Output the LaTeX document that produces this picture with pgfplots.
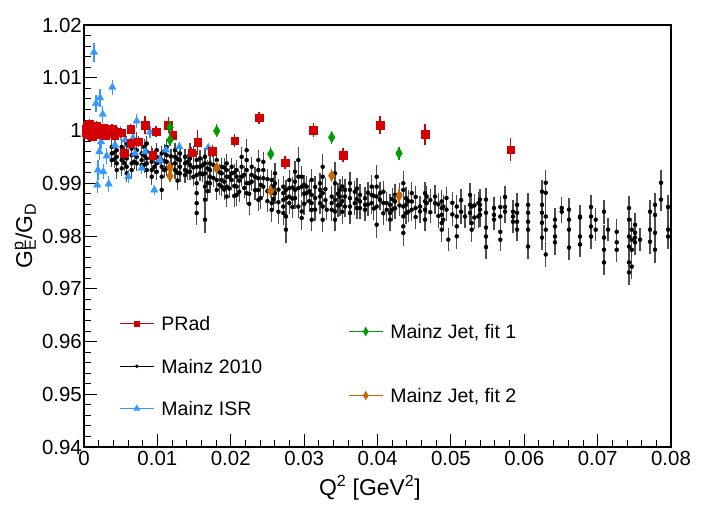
\documentclass[border=0pt]{standalone}
\usepackage{fontspec}
\setmainfont{Liberation Sans}
\usepackage{pgfplots}
\usepackage{pgfplotstable}
\pgfplotsset{compat=1.18}
\definecolor{cred}{RGB}{210,0,0}
\definecolor{cblue}{RGB}{51,153,255}
\definecolor{cgreen}{RGB}{0,155,0}
\definecolor{corange}{RGB}{204,102,0}

\pgfplotstableread{
x y e
0.00022 1.0003 0.0006
0.00030 0.9996 0.0006
0.00038 1.0010 0.0005
0.00046 0.9992 0.0005
0.00055 1.0005 0.0005
0.00065 0.9998 0.0005
0.00076 1.0012 0.0005
0.00088 0.9994 0.0004
0.00101 1.0002 0.0004
0.00115 0.9989 0.0004
0.00131 1.0006 0.0004
0.00148 0.9999 0.0004
0.00166 1.0009 0.0004
0.00186 0.9993 0.0004
0.00208 1.0001 0.0004
0.00232 0.9997 0.0004
0.00258 1.0004 0.0004
0.00286 0.9991 0.0004
0.00316 1.0000 0.0004
0.00348 0.9995 0.0004
0.00383 1.0003 0.0005
0.00420 0.9990 0.0005
0.00460 0.9998 0.0005
0.00503 0.9996 0.0005
0.00549 0.99568 0.0006
0.00637 1.00028 0.0005
0.00637 0.99757 0.0005
0.00740 0.99788 0.0006
0.00831 1.00104 0.0012
0.00936 0.99536 0.0008
0.00981 0.99977 0.0006
0.01149 1.00104 0.0010
0.01209 0.99915 0.0007
0.01468 0.99576 0.0007
0.01550 0.99773 0.0019
0.01749 0.99606 0.0007
0.02054 0.99807 0.0008
0.02385 1.00243 0.0007
0.02740 0.99390 0.0008
0.03125 1.00010 0.0009
0.03530 0.99536 0.0009
0.04034 1.00104 0.0012
0.04648 0.99928 0.0016
0.05816 0.99636 0.0017
}\tblR

\pgfplotstableread{
x y e
0.00136 1.01482 0.0014
0.00164 1.00516 0.0012
0.00181 0.98967 0.0011
0.00190 0.99251 0.0014
0.00209 0.99598 0.0012
0.00218 1.00622 0.0013
0.00232 0.99788 0.0010
0.00255 1.00307 0.0012
0.00263 0.99219 0.0010
0.00310 0.99517 0.0011
0.00337 0.98986 0.0011
0.00386 1.00819 0.0010
0.00423 0.99725 0.0009
0.00500 0.99947 0.0009
0.00560 0.99820 0.0008
0.00604 0.99124 0.0008
0.00668 0.99858 0.0008
0.00695 0.99568 0.0007
0.00718 1.00180 0.0008
0.00786 0.99283 0.0006
0.00831 0.99598 0.0007
0.00900 0.99970 0.0007
0.00958 0.98872 0.0005
0.01036 0.99441 0.0006
0.01118 0.99630 0.0006
0.01299 0.99693 0.0005
0.01694 0.99674 0.0005
}\tblI

\pgfplotstableread{
x y e
0.01172 1.00061 0.0007
0.01172 0.99820 0.0007
0.01809 0.99991 0.0008
0.02545 0.99555 0.0008
0.03376 0.99871 0.0008
0.04293 0.99568 0.0008
}\tblJa

\pgfplotstableread{
x y e
0.01172 0.99295 0.0007
0.01172 0.99137 0.0007
0.01809 0.99294 0.0008
0.02545 0.98853 0.0008
0.03376 0.99143 0.0008
0.04293 0.98758 0.0008
}\tblJb

\pgfplotstableread{
x y e
0.00378 0.99689 0.0008
0.00378 0.99565 0.0010
0.00378 0.99439 0.0009
0.00412 0.9958 0.0008
0.00412 0.9945 0.0011
0.00446 0.99627 0.0009
0.00446 0.99501 0.0008
0.00446 0.99377 0.0010
0.00446 0.99250 0.0012
0.00514 0.99689 0.0010
0.00514 0.99565 0.0008
0.00514 0.99439 0.0009
0.00514 0.99282 0.0011
0.00548 0.9962 0.0009
0.00548 0.9950 0.0008
0.00548 0.9938 0.0010
0.00582 0.99753 0.0010
0.00582 0.99595 0.0009
0.00582 0.99471 0.0008
0.00582 0.99313 0.0009
0.00582 0.99188 0.0012
0.00650 0.99659 0.0009
0.00650 0.99533 0.0008
0.00650 0.99377 0.0010
0.00650 0.99250 0.0011
0.00684 0.9955 0.0009
0.00684 0.9941 0.0010
0.00718 0.99815 0.0011
0.00718 0.99627 0.0009
0.00718 0.99501 0.0008
0.00718 0.99377 0.0010
0.00786 0.99565 0.0009
0.00786 0.99439 0.0010
0.00786 0.99345 0.0009
0.00820 0.9969 0.0010
0.00820 0.9952 0.0009
0.00820 0.9935 0.0011
0.00855 0.99753 0.0010
0.00855 0.99595 0.0009
0.00855 0.99471 0.0008
0.00855 0.99377 0.0009
0.00855 0.99250 0.0011
0.00923 0.99565 0.0009
0.00923 0.99407 0.0010
0.00923 0.99250 0.0009
0.00923 0.99124 0.0012
0.00957 0.9948 0.0010
0.00957 0.9931 0.0009
0.00991 0.99627 0.0010
0.00991 0.99501 0.0009
0.00991 0.99377 0.0010
0.00991 0.99218 0.0011
0.01059 0.99565 0.0010
0.01059 0.99439 0.0009
0.01059 0.99313 0.0010
0.01059 0.99124 0.0012
0.01059 0.98874 0.0015
0.01093 0.9960 0.0010
0.01093 0.9942 0.0009
0.01093 0.9925 0.0011
0.01127 0.99689 0.0010
0.01127 0.99533 0.0009
0.01127 0.99407 0.0010
0.01127 0.99282 0.0011
0.01184 0.9951 0.0010
0.01184 0.9936 0.0011
0.01240 0.99627 0.0010
0.01240 0.99501 0.0011
0.01240 0.99377 0.0009
0.01240 0.99250 0.0012
0.01274 0.9946 0.0010
0.01274 0.9920 0.0011
0.01274 0.9905 0.0013
0.01308 0.99565 0.0010
0.01308 0.99439 0.0011
0.01308 0.99313 0.0010
0.01308 0.99188 0.0012
0.01377 0.99501 0.0011
0.01377 0.99377 0.0010
0.01377 0.99250 0.0012
0.01377 0.99156 0.0011
0.01411 0.9940 0.0011
0.01411 0.9922 0.0012
0.01445 0.99595 0.0012
0.01445 0.99471 0.0010
0.01445 0.99345 0.0011
0.01445 0.99218 0.0012
0.01490 0.9955 0.0011
0.01490 0.9930 0.0012
0.01490 0.9912 0.0013
0.01536 0.99439 0.0012
0.01536 0.99313 0.0011
0.01536 0.99156 0.0012
0.01536 0.99000 0.0013
0.01536 0.98812 0.0014
0.01536 0.98623 0.0016
0.01536 0.98435 0.0018
0.01581 0.99471 0.0011
0.01581 0.99313 0.0012
0.01581 0.99188 0.0011
0.01615 0.9934 0.0012
0.01615 0.9917 0.0011
0.01649 0.99501 0.0012
0.01649 0.99377 0.0011
0.01649 0.99188 0.0013
0.01649 0.98936 0.0015
0.01649 0.98686 0.0016
0.01649 0.98309 0.0020
0.01683 0.9928 0.0012
0.01683 0.9901 0.0013
0.01683 0.9885 0.0014
0.01717 0.99377 0.0012
0.01717 0.99250 0.0011
0.01717 0.99124 0.0012
0.01717 0.99000 0.0014
0.01763 0.9935 0.0012
0.01763 0.9910 0.0013
0.01809 0.99439 0.0013
0.01809 0.99250 0.0012
0.01809 0.99062 0.0013
0.01809 0.98874 0.0015
0.01843 0.9921 0.0012
0.01843 0.9897 0.0014
0.01877 0.99313 0.0012
0.01877 0.99188 0.0013
0.01877 0.99062 0.0012
0.01877 0.98936 0.0014
0.01911 0.9930 0.0013
0.01911 0.9903 0.0012
0.01911 0.9888 0.0015
0.01945 0.99377 0.0013
0.01945 0.99250 0.0012
0.01945 0.99124 0.0013
0.01945 0.98936 0.0014
0.01945 0.98748 0.0016
0.01979 0.9912 0.0013
0.01979 0.9890 0.0014
0.02013 0.99313 0.0013
0.02013 0.99188 0.0012
0.02013 0.99062 0.0014
0.02047 0.9920 0.0013
0.02047 0.9895 0.0014
0.02047 0.9876 0.0016
0.02081 0.99250 0.0014
0.02081 0.99124 0.0013
0.02081 0.98936 0.0014
0.02081 0.98780 0.0016
0.02115 0.9905 0.0013
0.02115 0.9884 0.0015
0.02149 0.99501 0.0015
0.02149 0.99313 0.0013
0.02149 0.99124 0.0014
0.02183 0.9916 0.0013
0.02183 0.9891 0.0015
0.02217 0.99627 0.0016
0.02217 0.99439 0.0014
0.02217 0.99250 0.0013
0.02217 0.99000 0.0015
0.02217 0.98812 0.0016
0.02251 0.9900 0.0014
0.02251 0.9880 0.0015
0.02251 0.9861 0.0017
0.02286 0.99313 0.0014
0.02286 0.99156 0.0013
0.02286 0.99030 0.0014
0.02331 0.9912 0.0014
0.02331 0.9887 0.0015
0.02376 0.99439 0.0015
0.02376 0.99250 0.0014
0.02376 0.99094 0.0013
0.02376 0.98874 0.0015
0.02376 0.98686 0.0017
0.02410 0.9897 0.0014
0.02410 0.9872 0.0016
0.02444 0.99407 0.0015
0.02444 0.99250 0.0014
0.02444 0.99094 0.0013
0.02444 0.98936 0.0015
0.02500 0.9908 0.0014
0.02500 0.9885 0.0015
0.02500 0.9866 0.0017
0.02558 0.99062 0.0015
0.02558 0.98936 0.0014
0.02558 0.98812 0.0015
0.02558 0.98623 0.0016
0.02558 0.98497 0.0018
0.02580 0.9894 0.0014
0.02580 0.9870 0.0016
0.02603 0.99188 0.0015
0.02603 0.99000 0.0014
0.02603 0.98812 0.0016
0.02650 0.9888 0.0015
0.02650 0.9864 0.0016
0.02650 0.9846 0.0018
0.02716 0.98936 0.0015
0.02716 0.98812 0.0014
0.02716 0.98686 0.0015
0.02716 0.98559 0.0016
0.02716 0.98435 0.0018
0.02753 0.98874 0.0015
0.02753 0.98717 0.0016
0.02753 0.98371 0.0017
0.02753 0.98120 0.0020
0.02798 0.99062 0.0015
0.02798 0.98906 0.0014
0.02798 0.98748 0.0015
0.02798 0.98623 0.0016
0.02840 0.9892 0.0015
0.02840 0.9871 0.0016
0.02840 0.9855 0.0017
0.02876 0.99218 0.0016
0.02876 0.99030 0.0015
0.02876 0.98874 0.0014
0.02876 0.98717 0.0016
0.02921 0.99439 0.0020
0.02921 0.99124 0.0016
0.02921 0.98906 0.0015
0.02921 0.98559 0.0017
0.02967 0.99124 0.0015
0.02967 0.98936 0.0016
0.02967 0.98465 0.0017
0.02967 0.98341 0.0018
0.03000 0.9897 0.0015
0.03000 0.9880 0.0016
0.03000 0.9861 0.0017
0.03035 0.98936 0.0015
0.03035 0.98812 0.0016
0.03070 0.9885 0.0016
0.03070 0.9866 0.0017
0.03103 0.99062 0.0016
0.03103 0.98780 0.0015
0.03103 0.98623 0.0016
0.03103 0.98497 0.0017
0.03103 0.98309 0.0018
0.03150 0.9893 0.0016
0.03150 0.9872 0.0015
0.03150 0.9850 0.0017
0.03217 0.99000 0.0016
0.03217 0.98874 0.0015
0.03217 0.98748 0.0016
0.03217 0.98623 0.0017
0.03253 0.99313 0.0020
0.03253 0.99124 0.0017
0.03253 0.98812 0.0016
0.03253 0.98559 0.0017
0.03253 0.98309 0.0019
0.03290 0.9889 0.0016
0.03290 0.9868 0.0017
0.03308 0.98497 0.0015
0.03376 0.98748 0.0016
0.03376 0.98623 0.0015
0.03376 0.98497 0.0016
0.03421 0.99188 0.0018
0.03421 0.99000 0.0016
0.03421 0.98686 0.0017
0.03421 0.98465 0.0016
0.03421 0.98309 0.0018
0.03460 0.9880 0.0016
0.03460 0.9858 0.0017
0.03489 0.98874 0.0016
0.03489 0.98748 0.0015
0.03489 0.98591 0.0016
0.03520 0.9894 0.0016
0.03520 0.9866 0.0017
0.03520 0.9846 0.0018
0.03557 0.98874 0.0016
0.03557 0.98748 0.0017
0.03557 0.98559 0.0016
0.03625 0.99000 0.0017
0.03625 0.98874 0.0016
0.03625 0.98717 0.0015
0.03625 0.98559 0.0016
0.03625 0.98435 0.0017
0.03690 0.9884 0.0016
0.03690 0.9862 0.0017
0.03720 0.9890 0.0016
0.03720 0.9870 0.0017
0.03720 0.9853 0.0016
0.03762 0.98780 0.0016
0.03762 0.98655 0.0015
0.03762 0.98528 0.0016
0.03830 0.98717 0.0016
0.03830 0.98591 0.0015
0.03830 0.98497 0.0016
0.03870 0.9882 0.0016
0.03870 0.9860 0.0017
0.03921 0.98936 0.0017
0.03921 0.98780 0.0016
0.03921 0.98623 0.0016
0.03950 0.9876 0.0016
0.03950 0.9852 0.0017
0.03989 0.99124 0.0018
0.03989 0.98936 0.0017
0.03989 0.98748 0.0016
0.03989 0.98559 0.0017
0.03989 0.98215 0.0020
0.04034 0.98812 0.0016
0.04034 0.98686 0.0015
0.04080 0.9884 0.0016
0.04080 0.9863 0.0017
0.04080 0.9843 0.0018
0.04126 0.98623 0.0016
0.04126 0.98497 0.0017
0.04171 0.98591 0.0016
0.04171 0.98435 0.0017
0.04171 0.98309 0.0018
0.04200 0.9870 0.0016
0.04200 0.9850 0.0017
0.04239 0.98780 0.0016
0.04239 0.98655 0.0017
0.04239 0.98528 0.0016
0.04300 0.9879 0.0017
0.04300 0.9858 0.0016
0.04352 0.99000 0.0018
0.04352 0.98874 0.0017
0.04352 0.98559 0.0016
0.04352 0.98371 0.0017
0.04352 0.98183 0.0018
0.04352 0.98058 0.0020
0.04389 0.98717 0.0016
0.04389 0.98591 0.0017
0.04389 0.98435 0.0016
0.04420 0.9866 0.0017
0.04420 0.9846 0.0016
0.04467 0.98812 0.0017
0.04467 0.98655 0.0016
0.04467 0.98497 0.0017
0.04520 0.9874 0.0016
0.04520 0.9853 0.0017
0.04520 0.9836 0.0018
0.04580 0.98559 0.0016
0.04580 0.98465 0.0017
0.04648 0.98812 0.0017
0.04648 0.98655 0.0016
0.04648 0.98497 0.0017
0.04648 0.98309 0.0018
0.04671 0.98748 0.0016
0.04671 0.98623 0.0017
0.04720 0.9868 0.0017
0.04720 0.9845 0.0016
0.04784 0.98748 0.0017
0.04784 0.98623 0.0016
0.04830 0.9860 0.0017
0.04830 0.9838 0.0018
0.04875 0.98655 0.0017
0.04875 0.98528 0.0016
0.04875 0.98403 0.0017
0.04875 0.98246 0.0018
0.04875 0.98120 0.0019
0.04897 0.98559 0.0017
0.04897 0.98309 0.0018
0.04940 0.9872 0.0017
0.04940 0.9850 0.0018
0.04965 0.97932 0.0018
0.05020 0.9863 0.0017
0.05020 0.9841 0.0018
0.05080 0.98559 0.0017
0.05080 0.98371 0.0018
0.05080 0.98183 0.0017
0.05080 0.97994 0.0019
0.05140 0.9868 0.0017
0.05140 0.9846 0.0018
0.05193 0.98371 0.0017
0.05261 0.98780 0.0018
0.05261 0.98591 0.0017
0.05261 0.98435 0.0018
0.05284 0.98559 0.0017
0.05284 0.98246 0.0018
0.05284 0.98120 0.0019
0.05320 0.9858 0.0017
0.05320 0.9835 0.0018
0.05374 0.98623 0.0017
0.05374 0.98371 0.0018
0.05397 0.9869 0.0016
0.05397 0.9859 0.0017
0.05397 0.9850 0.0016
0.05397 0.9840 0.0018
0.05479 0.9869 0.0017
0.05479 0.9844 0.0018
0.05479 0.9816 0.0017
0.05479 0.9799 0.0018
0.05479 0.9779 0.0019
0.05588 0.9853 0.0016
0.05588 0.9840 0.0017
0.05588 0.9831 0.0016
0.05674 0.9855 0.0017
0.05674 0.9837 0.0018
0.05674 0.9808 0.0017
0.05674 0.9793 0.0018
0.05738 0.9874 0.0017
0.05738 0.9855 0.0016
0.05738 0.9846 0.0017
0.05847 0.9846 0.0017
0.05847 0.9837 0.0016
0.05847 0.9827 0.0017
0.05902 0.9859 0.0018
0.05902 0.9844 0.0017
0.05902 0.9827 0.0018
0.05902 0.9812 0.0017
0.06052 0.9859 0.0018
0.06052 0.9844 0.0017
0.06052 0.9827 0.0018
0.06052 0.9812 0.0017
0.06052 0.9780 0.0019
0.06242 0.9884 0.0018
0.06242 0.9859 0.0017
0.06242 0.9844 0.0018
0.06242 0.9825 0.0017
0.06242 0.9797 0.0019
0.06293 0.9901 0.0020
0.06293 0.9882 0.0018
0.06293 0.9837 0.0019
0.06293 0.9812 0.0018
0.06293 0.9765 0.0020
0.06419 0.9831 0.0018
0.06419 0.9818 0.0017
0.06419 0.9799 0.0018
0.06419 0.9788 0.0019
0.06511 0.9853 0.0016
0.06511 0.9846 0.0017
0.06610 0.9850 0.0018
0.06610 0.9831 0.0017
0.06610 0.9812 0.0018
0.06610 0.9778 0.0019
0.06760 0.9837 0.0018
0.06760 0.9835 0.0017
0.06760 0.9799 0.0018
0.06760 0.9784 0.0019
0.06910 0.9855 0.0018
0.06910 0.9837 0.0019
0.06910 0.9818 0.0018
0.06910 0.9799 0.0019
0.06974 0.9831 0.0017
0.06974 0.9812 0.0018
0.07087 0.9846 0.0018
0.07087 0.9797 0.0019
0.07087 0.9774 0.0018
0.07087 0.9750 0.0020
0.07142 0.9812 0.0018
0.07260 0.9808 0.0019
0.07260 0.9788 0.0018
0.07260 0.9774 0.0019
0.07428 0.9853 0.0019
0.07428 0.9831 0.0018
0.07428 0.9799 0.0019
0.07428 0.9780 0.0018
0.07428 0.9750 0.0019
0.07428 0.9731 0.0020
0.07465 0.9812 0.0018
0.07465 0.9793 0.0019
0.07465 0.9774 0.0018
0.07465 0.9742 0.0020
0.07510 0.9821 0.0018
0.07510 0.9806 0.0019
0.07510 0.9797 0.0018
0.07510 0.9788 0.0019
0.07578 0.9793 0.0018
0.07714 0.9846 0.0018
0.07714 0.9812 0.0019
0.07714 0.9789 0.0018
0.07782 0.9859 0.0019
0.07782 0.9840 0.0018
0.07782 0.9806 0.0019
0.07782 0.9774 0.0020
0.07864 0.9901 0.0019
0.07864 0.9869 0.0018
0.07960 0.9855 0.0019
0.07960 0.9812 0.0018
0.07960 0.9799 0.0019
}\tblB

\pgfplotsset{
  base/.style={
    at={(0,0)}, anchor=south west,
    scale only axis, width=587bp, height=422bp,
    xmin=0, xmax=0.08, ymin=0.94, ymax=1.02,
  },
  leg/.style={
    legend cell align=left,
    legend image code/.code={\draw[mark repeat=2,mark phase=2] plot coordinates {(0bp,0bp) (17bp,0bp) (34bp,0bp)};},
    legend style={draw=none, fill=none, inner sep=0pt, outer sep=0pt,
      anchor=north west, column sep=7bp,
      font=\fontsize{19.6}{22}\selectfont,
      nodes={inner sep=0pt, text height=14bp, text depth=0.4bp}},
  },
  ebar/.style={error bars/.cd, y dir=both, y explicit,
    error bar style={line width=1.3bp, #1},
    error mark options={line width=1.3bp, mark size=2.3bp, #1}},
}

\begin{document}
\begin{tikzpicture}
\useasboundingbox (-84bp,-62bp) rectangle (622bp,447bp);
\begin{axis}[base, leg,
  scaled x ticks=false, scaled y ticks=false,
  xtick={0,0.01,0.02,0.03,0.04,0.05,0.06,0.07,0.08},
  xticklabels={0,0.01,0.02,0.03,0.04,0.05,0.06,0.07,0.08},
  ytick={0.94,0.95,0.96,0.97,0.98,0.99,1,1.01,1.02},
  yticklabels={0.94,0.95,0.96,0.97,0.98,0.99,1,1.01,1.02},
  minor x tick num=4, minor y tick num=4,
  xtick pos=left, ytick pos=left, tick align=inside,
  major tick length=13bp, minor tick length=7bp,
  axis line style={line width=1.4bp},
  tick style={black, line width=0.9bp},
  tick label style={font=\fontsize{20.5}{22}\selectfont},
  yticklabel style={inner sep=2bp},
  xticklabel style={inner sep=4bp},
  xlabel={Q\textsuperscript{2} [GeV\textsuperscript{2}]},
  ylabel={G\rlap{\textsuperscript{p}}\textsubscript{E}/G\textsubscript{D}},
  label style={font=\fontsize{23}{26}\selectfont},
  xlabel style={at={(axis description cs:0.487,-0.097)}, anchor=center},
  ylabel style={at={(axis description cs:-0.10,0.5)}, anchor=center},
  legend style={at={(0.060,0.309)}, row sep=28bp},
]
\addlegendimage{cred, line width=1bp, mark=square*, mark size=2.5bp, mark options={solid}}
\addlegendentry{PRad}
\addlegendimage{black, line width=0.9bp, mark=*, mark size=1.3bp}
\addlegendentry{Mainz 2010}
\addlegendimage{cblue, line width=1.2bp, mark=triangle*, mark size=3bp}
\addlegendentry{Mainz ISR}

\addplot[forget plot, only marks, mark=*, mark size=2bp, black,
  ebar=black!70] table[x=x, y=y, y error=e] {\tblB};
\addplot[forget plot, only marks, mark=triangle*, mark size=4.3bp, cblue,
  ebar=cblue] table[x=x, y=y, y error=e] {\tblI};
\addplot[forget plot, only marks, mark=square*, mark size=3.8bp, cred,
  ebar=cred] table[x=x, y=y, y error=e] {\tblR};
\end{axis}

\begin{axis}[base, leg, hide axis,
  legend style={at={(0.450,0.2907)}, row sep=49.6bp},
]
\addlegendimage{cgreen, line width=1.2bp, mark=diamond*, mark size=2.8bp, mark options={yscale=1.3}}
\addlegendentry{Mainz Jet, fit 1}
\addlegendimage{corange, line width=1.2bp, mark=diamond*, mark size=2.8bp, mark options={yscale=1.3}}
\addlegendentry{Mainz Jet, fit 2}
\addplot[forget plot, only marks, mark=diamond*, mark size=4.4bp, cgreen, mark options={yscale=1.25},
  ebar=cgreen] table[x=x, y=y, y error=e] {\tblJa};
\addplot[forget plot, only marks, mark=diamond*, mark size=4.4bp, corange, mark options={yscale=1.25},
  ebar=corange] table[x=x, y=y, y error=e] {\tblJb};
\end{axis}
\end{tikzpicture}
\end{document}
